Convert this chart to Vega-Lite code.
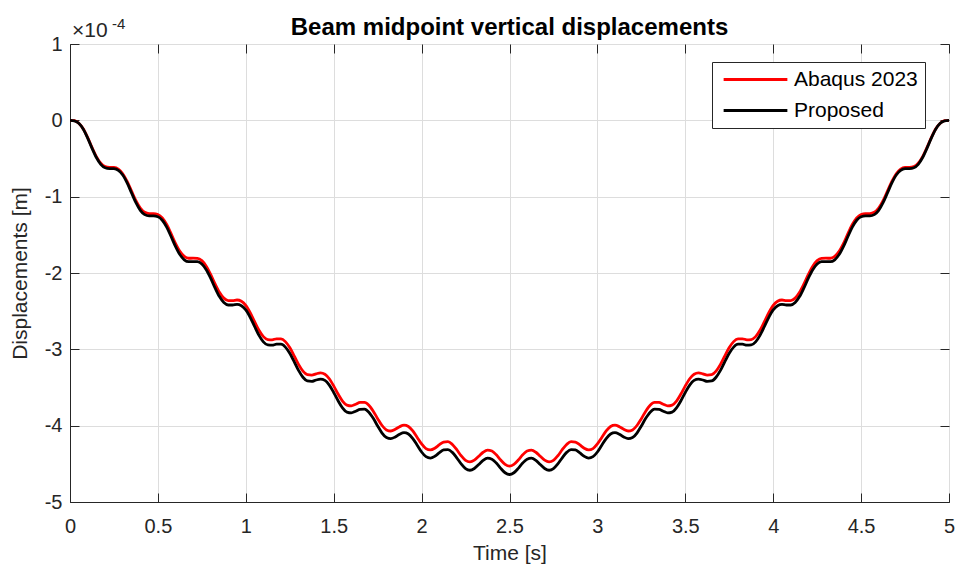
{
"$schema":"https://vega.github.io/schema/vega-lite/v6.json",
"width":879,"height":458,
"autosize":{"type":"none"},
"padding":{"left":70,"top":44,"right":6,"bottom":67},
"background":"white",
"title":{"text":"Beam midpoint vertical displacements","font":"Liberation Sans","fontSize":24,"fontWeight":"bold","color":"#000000","anchor":"middle","offset":10,"dy":33},
"data":{"values":[
{"t":0,"A":0,"P":0},
{"t":0.025,"A":-0.005e-4,"P":-0.006e-4},
{"t":0.05,"A":-0.038e-4,"P":-0.039e-4},
{"t":0.075,"A":-0.111e-4,"P":-0.114e-4},
{"t":0.1,"A":-0.224e-4,"P":-0.230e-4},
{"t":0.125,"A":-0.355e-4,"P":-0.364e-4},
{"t":0.15,"A":-0.475e-4,"P":-0.487e-4},
{"t":0.175,"A":-0.562e-4,"P":-0.576e-4},
{"t":0.2,"A":-0.606e-4,"P":-0.621e-4},
{"t":0.225,"A":-0.617e-4,"P":-0.632e-4},
{"t":0.25,"A":-0.618e-4,"P":-0.633e-4},
{"t":0.275,"A":-0.639e-4,"P":-0.655e-4},
{"t":0.3,"A":-0.699e-4,"P":-0.716e-4},
{"t":0.325,"A":-0.800e-4,"P":-0.820e-4},
{"t":0.35,"A":-0.927e-4,"P":-0.950e-4},
{"t":0.375,"A":-1.053e-4,"P":-1.079e-4},
{"t":0.4,"A":-1.150e-4,"P":-1.179e-4},
{"t":0.425,"A":-1.205e-4,"P":-1.235e-4},
{"t":0.45,"A":-1.222e-4,"P":-1.252e-4},
{"t":0.475,"A":-1.222e-4,"P":-1.252e-4},
{"t":0.5,"A":-1.233e-4,"P":-1.263e-4},
{"t":0.525,"A":-1.278e-4,"P":-1.309e-4},
{"t":0.55,"A":-1.365e-4,"P":-1.399e-4},
{"t":0.575,"A":-1.485e-4,"P":-1.522e-4},
{"t":0.6,"A":-1.612e-4,"P":-1.651e-4},
{"t":0.625,"A":-1.717e-4,"P":-1.759e-4},
{"t":0.65,"A":-1.783e-4,"P":-1.827e-4},
{"t":0.675,"A":-1.807e-4,"P":-1.852e-4},
{"t":0.7,"A":-1.806e-4,"P":-1.851e-4},
{"t":0.725,"A":-1.808e-4,"P":-1.852e-4},
{"t":0.75,"A":-1.838e-4,"P":-1.883e-4},
{"t":0.775,"A":-1.910e-4,"P":-1.957e-4},
{"t":0.8,"A":-2.018e-4,"P":-2.068e-4},
{"t":0.825,"A":-2.142e-4,"P":-2.195e-4},
{"t":0.85,"A":-2.253e-4,"P":-2.309e-4},
{"t":0.875,"A":-2.329e-4,"P":-2.386e-4},
{"t":0.9,"A":-2.361e-4,"P":-2.419e-4},
{"t":0.925,"A":-2.361e-4,"P":-2.419e-4},
{"t":0.95,"A":-2.354e-4,"P":-2.412e-4},
{"t":0.975,"A":-2.370e-4,"P":-2.428e-4},
{"t":1.0,"A":-2.424e-4,"P":-2.484e-4},
{"t":1.025,"A":-2.519e-4,"P":-2.581e-4},
{"t":1.05,"A":-2.637e-4,"P":-2.701e-4},
{"t":1.075,"A":-2.750e-4,"P":-2.817e-4},
{"t":1.1,"A":-2.833e-4,"P":-2.902e-4},
{"t":1.125,"A":-2.872e-4,"P":-2.943e-4},
{"t":1.15,"A":-2.875e-4,"P":-2.946e-4},
{"t":1.175,"A":-2.862e-4,"P":-2.933e-4},
{"t":1.2,"A":-2.863e-4,"P":-2.933e-4},
{"t":1.225,"A":-2.899e-4,"P":-2.971e-4},
{"t":1.25,"A":-2.977e-4,"P":-3.051e-4},
{"t":1.275,"A":-3.085e-4,"P":-3.161e-4},
{"t":1.3,"A":-3.197e-4,"P":-3.276e-4},
{"t":1.325,"A":-3.285e-4,"P":-3.366e-4},
{"t":1.35,"A":-3.332e-4,"P":-3.414e-4},
{"t":1.375,"A":-3.338e-4,"P":-3.420e-4},
{"t":1.4,"A":-3.321e-4,"P":-3.402e-4},
{"t":1.425,"A":-3.308e-4,"P":-3.390e-4},
{"t":1.45,"A":-3.326e-4,"P":-3.407e-4},
{"t":1.475,"A":-3.385e-4,"P":-3.468e-4},
{"t":1.5,"A":-3.479e-4,"P":-3.565e-4},
{"t":1.525,"A":-3.586e-4,"P":-3.674e-4},
{"t":1.55,"A":-3.677e-4,"P":-3.767e-4},
{"t":1.575,"A":-3.730e-4,"P":-3.822e-4},
{"t":1.6,"A":-3.740e-4,"P":-3.832e-4},
{"t":1.625,"A":-3.720e-4,"P":-3.811e-4},
{"t":1.65,"A":-3.695e-4,"P":-3.786e-4},
{"t":1.675,"A":-3.694e-4,"P":-3.784e-4},
{"t":1.7,"A":-3.732e-4,"P":-3.824e-4},
{"t":1.725,"A":-3.810e-4,"P":-3.904e-4},
{"t":1.75,"A":-3.908e-4,"P":-4.004e-4},
{"t":1.775,"A":-3.998e-4,"P":-4.097e-4},
{"t":1.8,"A":-4.056e-4,"P":-4.156e-4},
{"t":1.825,"A":-4.070e-4,"P":-4.170e-4},
{"t":1.85,"A":-4.048e-4,"P":-4.148e-4},
{"t":1.875,"A":-4.013e-4,"P":-4.112e-4},
{"t":1.9,"A":-3.993e-4,"P":-4.092e-4},
{"t":1.925,"A":-4.010e-4,"P":-4.109e-4},
{"t":1.95,"A":-4.069e-4,"P":-4.169e-4},
{"t":1.975,"A":-4.154e-4,"P":-4.256e-4},
{"t":2.0,"A":-4.240e-4,"P":-4.345e-4},
{"t":2.025,"A":-4.300e-4,"P":-4.406e-4},
{"t":2.05,"A":-4.318e-4,"P":-4.424e-4},
{"t":2.075,"A":-4.296e-4,"P":-4.401e-4},
{"t":2.1,"A":-4.252e-4,"P":-4.356e-4},
{"t":2.125,"A":-4.215e-4,"P":-4.318e-4},
{"t":2.15,"A":-4.209e-4,"P":-4.313e-4},
{"t":2.175,"A":-4.246e-4,"P":-4.350e-4},
{"t":2.2,"A":-4.315e-4,"P":-4.421e-4},
{"t":2.225,"A":-4.394e-4,"P":-4.502e-4},
{"t":2.25,"A":-4.454e-4,"P":-4.563e-4},
{"t":2.275,"A":-4.474e-4,"P":-4.584e-4},
{"t":2.3,"A":-4.452e-4,"P":-4.561e-4},
{"t":2.325,"A":-4.401e-4,"P":-4.509e-4},
{"t":2.35,"A":-4.348e-4,"P":-4.455e-4},
{"t":2.375,"A":-4.320e-4,"P":-4.426e-4},
{"t":2.4,"A":-4.332e-4,"P":-4.439e-4},
{"t":2.425,"A":-4.382e-4,"P":-4.490e-4},
{"t":2.45,"A":-4.450e-4,"P":-4.559e-4},
{"t":2.475,"A":-4.506e-4,"P":-4.617e-4},
{"t":2.5,"A":-4.529e-4,"P":-4.640e-4},
{"t":2.525,"A":-4.506e-4,"P":-4.617e-4},
{"t":2.55,"A":-4.450e-4,"P":-4.559e-4},
{"t":2.575,"A":-4.382e-4,"P":-4.490e-4},
{"t":2.6,"A":-4.332e-4,"P":-4.439e-4},
{"t":2.625,"A":-4.320e-4,"P":-4.426e-4},
{"t":2.65,"A":-4.348e-4,"P":-4.455e-4},
{"t":2.675,"A":-4.401e-4,"P":-4.509e-4},
{"t":2.7,"A":-4.452e-4,"P":-4.561e-4},
{"t":2.725,"A":-4.474e-4,"P":-4.584e-4},
{"t":2.75,"A":-4.454e-4,"P":-4.563e-4},
{"t":2.775,"A":-4.394e-4,"P":-4.502e-4},
{"t":2.8,"A":-4.315e-4,"P":-4.421e-4},
{"t":2.825,"A":-4.246e-4,"P":-4.350e-4},
{"t":2.85,"A":-4.209e-4,"P":-4.313e-4},
{"t":2.875,"A":-4.215e-4,"P":-4.318e-4},
{"t":2.9,"A":-4.252e-4,"P":-4.356e-4},
{"t":2.925,"A":-4.296e-4,"P":-4.401e-4},
{"t":2.95,"A":-4.318e-4,"P":-4.424e-4},
{"t":2.975,"A":-4.300e-4,"P":-4.406e-4},
{"t":3.0,"A":-4.240e-4,"P":-4.345e-4},
{"t":3.025,"A":-4.154e-4,"P":-4.256e-4},
{"t":3.05,"A":-4.069e-4,"P":-4.169e-4},
{"t":3.075,"A":-4.010e-4,"P":-4.109e-4},
{"t":3.1,"A":-3.993e-4,"P":-4.092e-4},
{"t":3.125,"A":-4.013e-4,"P":-4.112e-4},
{"t":3.15,"A":-4.048e-4,"P":-4.148e-4},
{"t":3.175,"A":-4.070e-4,"P":-4.170e-4},
{"t":3.2,"A":-4.056e-4,"P":-4.156e-4},
{"t":3.225,"A":-3.998e-4,"P":-4.097e-4},
{"t":3.25,"A":-3.908e-4,"P":-4.004e-4},
{"t":3.275,"A":-3.810e-4,"P":-3.904e-4},
{"t":3.3,"A":-3.732e-4,"P":-3.824e-4},
{"t":3.325,"A":-3.694e-4,"P":-3.784e-4},
{"t":3.35,"A":-3.695e-4,"P":-3.786e-4},
{"t":3.375,"A":-3.720e-4,"P":-3.811e-4},
{"t":3.4,"A":-3.740e-4,"P":-3.832e-4},
{"t":3.425,"A":-3.730e-4,"P":-3.822e-4},
{"t":3.45,"A":-3.677e-4,"P":-3.767e-4},
{"t":3.475,"A":-3.586e-4,"P":-3.674e-4},
{"t":3.5,"A":-3.479e-4,"P":-3.565e-4},
{"t":3.525,"A":-3.385e-4,"P":-3.468e-4},
{"t":3.55,"A":-3.326e-4,"P":-3.407e-4},
{"t":3.575,"A":-3.308e-4,"P":-3.390e-4},
{"t":3.6,"A":-3.321e-4,"P":-3.402e-4},
{"t":3.625,"A":-3.338e-4,"P":-3.420e-4},
{"t":3.65,"A":-3.332e-4,"P":-3.414e-4},
{"t":3.675,"A":-3.285e-4,"P":-3.366e-4},
{"t":3.7,"A":-3.197e-4,"P":-3.276e-4},
{"t":3.725,"A":-3.085e-4,"P":-3.161e-4},
{"t":3.75,"A":-2.977e-4,"P":-3.051e-4},
{"t":3.775,"A":-2.899e-4,"P":-2.971e-4},
{"t":3.8,"A":-2.863e-4,"P":-2.933e-4},
{"t":3.825,"A":-2.862e-4,"P":-2.933e-4},
{"t":3.85,"A":-2.875e-4,"P":-2.946e-4},
{"t":3.875,"A":-2.872e-4,"P":-2.943e-4},
{"t":3.9,"A":-2.833e-4,"P":-2.902e-4},
{"t":3.925,"A":-2.750e-4,"P":-2.817e-4},
{"t":3.95,"A":-2.637e-4,"P":-2.701e-4},
{"t":3.975,"A":-2.519e-4,"P":-2.581e-4},
{"t":4.0,"A":-2.424e-4,"P":-2.484e-4},
{"t":4.025,"A":-2.370e-4,"P":-2.428e-4},
{"t":4.05,"A":-2.354e-4,"P":-2.412e-4},
{"t":4.075,"A":-2.361e-4,"P":-2.419e-4},
{"t":4.1,"A":-2.361e-4,"P":-2.419e-4},
{"t":4.125,"A":-2.329e-4,"P":-2.386e-4},
{"t":4.15,"A":-2.253e-4,"P":-2.309e-4},
{"t":4.175,"A":-2.142e-4,"P":-2.195e-4},
{"t":4.2,"A":-2.018e-4,"P":-2.068e-4},
{"t":4.225,"A":-1.910e-4,"P":-1.957e-4},
{"t":4.25,"A":-1.838e-4,"P":-1.883e-4},
{"t":4.275,"A":-1.808e-4,"P":-1.852e-4},
{"t":4.3,"A":-1.806e-4,"P":-1.851e-4},
{"t":4.325,"A":-1.807e-4,"P":-1.852e-4},
{"t":4.35,"A":-1.783e-4,"P":-1.827e-4},
{"t":4.375,"A":-1.717e-4,"P":-1.759e-4},
{"t":4.4,"A":-1.612e-4,"P":-1.651e-4},
{"t":4.425,"A":-1.485e-4,"P":-1.522e-4},
{"t":4.45,"A":-1.365e-4,"P":-1.399e-4},
{"t":4.475,"A":-1.278e-4,"P":-1.309e-4},
{"t":4.5,"A":-1.233e-4,"P":-1.263e-4},
{"t":4.525,"A":-1.222e-4,"P":-1.252e-4},
{"t":4.55,"A":-1.222e-4,"P":-1.252e-4},
{"t":4.575,"A":-1.205e-4,"P":-1.235e-4},
{"t":4.6,"A":-1.150e-4,"P":-1.179e-4},
{"t":4.625,"A":-1.053e-4,"P":-1.079e-4},
{"t":4.65,"A":-0.927e-4,"P":-0.950e-4},
{"t":4.675,"A":-0.800e-4,"P":-0.820e-4},
{"t":4.7,"A":-0.699e-4,"P":-0.716e-4},
{"t":4.725,"A":-0.639e-4,"P":-0.655e-4},
{"t":4.75,"A":-0.618e-4,"P":-0.633e-4},
{"t":4.775,"A":-0.617e-4,"P":-0.632e-4},
{"t":4.8,"A":-0.606e-4,"P":-0.621e-4},
{"t":4.825,"A":-0.562e-4,"P":-0.576e-4},
{"t":4.85,"A":-0.475e-4,"P":-0.487e-4},
{"t":4.875,"A":-0.355e-4,"P":-0.364e-4},
{"t":4.9,"A":-0.224e-4,"P":-0.230e-4},
{"t":4.925,"A":-0.111e-4,"P":-0.114e-4},
{"t":4.95,"A":-0.038e-4,"P":-0.039e-4},
{"t":4.975,"A":-0.005e-4,"P":-0.006e-4},
{"t":5.0,"A":0,"P":0}
]},
"layer":[
{"mark":{"type":"line","interpolate":"monotone","strokeWidth":2.8,"clip":true},
 "encoding":{
  "x":{"field":"t","type":"quantitative","scale":{"domain":[0,5],"nice":false,"zero":false},
       "axis":{"orient":"bottom","title":"Time [s]","values":[0,0.5,1,1.5,2,2.5,3,3.5,4,4.5,5],"format":".1~f","grid":true,"tickSize":-9,"labelPadding":23,"titlePadding":6}},
  "y":{"field":"A","type":"quantitative","scale":{"domain":[-0.0005,0.0001],"nice":false,"zero":false},
       "axis":{"orient":"left","title":"Displacements [m]","values":[-0.0005,-0.0004,-0.0003,-0.0002,-0.0001,0,0.0001],"labelExpr":"''+round(datum.value*10000)","grid":true,"tickSize":-9,"labelPadding":17,"titlePadding":14}},
  "color":{"datum":"Abaqus 2023","type":"nominal","scale":{"domain":["Abaqus 2023","Proposed"],"range":["#ff0000","#000000"]},"title":null}
 }},
{"mark":{"type":"line","interpolate":"monotone","strokeWidth":2.8,"clip":true},
 "encoding":{
  "x":{"field":"t","type":"quantitative",
       "axis":{"orient":"top","title":null,"labels":false,"grid":false,"values":[0,0.5,1,1.5,2,2.5,3,3.5,4,4.5,5],"tickSize":-9,"domain":false}},
  "y":{"field":"P","type":"quantitative",
       "axis":{"orient":"right","title":null,"labels":false,"grid":false,"values":[-0.0005,-0.0004,-0.0003,-0.0002,-0.0001,0,0.0001],"tickSize":-9,"domain":false}},
  "color":{"datum":"Proposed","type":"nominal","title":null}
 }},
{"data":{"values":[{"t":0,"v":0.0001}]},
 "mark":{"type":"text","text":"×10","align":"left","baseline":"alphabetic","dx":2,"dy":-7,"fontSize":21,"font":"Liberation Sans","color":"#262626"},
 "encoding":{"x":{"field":"t","type":"quantitative","axis":null},"y":{"field":"v","type":"quantitative","axis":null}}},
{"data":{"values":[{"t":0,"v":0.0001}]},
 "mark":{"type":"text","text":"-4","align":"left","baseline":"alphabetic","dx":42,"dy":-15,"fontSize":15,"font":"Liberation Sans","color":"#262626"},
 "encoding":{"x":{"field":"t","type":"quantitative","axis":null},"y":{"field":"v","type":"quantitative","axis":null}}}
],
"resolve":{"axis":{"x":"independent","y":"independent"}},
"config":{
 "view":{"stroke":"#262626","strokeWidth":1},
 "axis":{"labelFont":"Liberation Sans","labelFontSize":20,"labelColor":"#262626","titleFont":"Liberation Sans","titleFontSize":21,"titleFontWeight":"normal","titleColor":"#262626","domainColor":"#262626","tickColor":"#262626","gridColor":"#dddddd","gridWidth":1,"gridOpacity":1,"labelFlush":false,"labelOverlap":false},
 "legend":{"orient":"none","legendX":642,"legendY":18,"direction":"vertical","strokeColor":"#262626","fillColor":"#ffffff","padding":7,"symbolType":"M-5.7,0H5.7","symbolSize":125,"symbolOffset":26,"symbolStrokeWidth":3,"labelFont":"Liberation Sans","labelFontSize":21,"labelColor":"#000000","labelOffset":28,"rowPadding":9,"cornerRadius":0}
}
}
